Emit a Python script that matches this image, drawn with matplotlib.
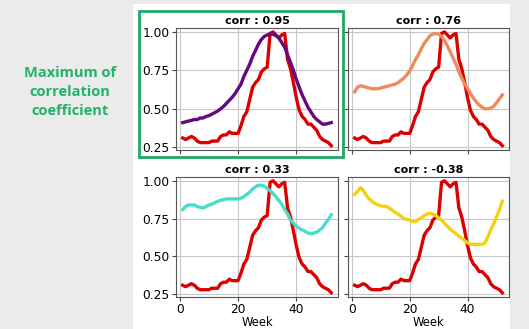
import matplotlib
matplotlib.use('Agg')
import matplotlib.pyplot as plt
from matplotlib.patches import Rectangle

weeks = list(range(1, 53))

observed = [0.31, 0.30, 0.31, 0.32, 0.31, 0.29, 0.28, 0.28, 0.28, 0.28,
            0.29, 0.29, 0.29, 0.32, 0.33, 0.33, 0.35, 0.34, 0.34, 0.34,
            0.39, 0.45, 0.48, 0.56, 0.64, 0.67, 0.69, 0.74, 0.76, 0.77,
            0.99, 1.00, 0.98, 0.96, 0.98, 0.99, 0.82, 0.76, 0.67, 0.57,
            0.49, 0.45, 0.43, 0.40, 0.40, 0.38, 0.36, 0.32, 0.30, 0.29,
            0.28, 0.26]

series_095 = [0.41, 0.415, 0.42, 0.425, 0.43, 0.43, 0.44, 0.44, 0.45, 0.455,
              0.465, 0.475, 0.485, 0.50, 0.515, 0.535, 0.555, 0.575, 0.60, 0.63,
              0.66, 0.71, 0.75, 0.79, 0.84, 0.88, 0.92, 0.95, 0.97, 0.98,
              0.985, 0.985, 0.975, 0.96, 0.93, 0.90, 0.85, 0.80, 0.75, 0.69,
              0.64, 0.59, 0.55, 0.51, 0.48, 0.45, 0.43, 0.415, 0.40, 0.40,
              0.405, 0.41]

series_076 = [0.61, 0.64, 0.65, 0.645, 0.64, 0.635, 0.63, 0.63, 0.63, 0.635,
              0.64, 0.645, 0.65, 0.655, 0.66, 0.67, 0.685, 0.70, 0.72, 0.745,
              0.78, 0.82, 0.85, 0.89, 0.925, 0.95, 0.975, 0.985, 0.99, 0.985,
              0.97, 0.945, 0.91, 0.87, 0.83, 0.79, 0.74, 0.70, 0.66, 0.63,
              0.60, 0.57, 0.545, 0.525, 0.51, 0.50, 0.50, 0.505, 0.515, 0.54,
              0.565, 0.59]

series_033 = [0.81, 0.83, 0.84, 0.84, 0.84, 0.83, 0.825, 0.82, 0.83, 0.84,
              0.845, 0.855, 0.865, 0.87, 0.875, 0.88, 0.88, 0.88, 0.88, 0.88,
              0.885, 0.895, 0.91, 0.925, 0.945, 0.96, 0.97, 0.97, 0.965, 0.95,
              0.935, 0.915, 0.895, 0.87, 0.845, 0.81, 0.78, 0.74, 0.72, 0.70,
              0.685, 0.675, 0.665, 0.655, 0.65, 0.655, 0.66, 0.675, 0.69, 0.72,
              0.745, 0.775]

series_m038 = [0.91, 0.93, 0.955, 0.935, 0.905, 0.88, 0.865, 0.85, 0.84, 0.835,
               0.83, 0.83, 0.82, 0.805, 0.79, 0.78, 0.765, 0.75, 0.745, 0.74,
               0.73, 0.73, 0.745, 0.755, 0.77, 0.78, 0.785, 0.78, 0.77, 0.755,
               0.74, 0.72, 0.70, 0.68, 0.665, 0.65, 0.635, 0.62, 0.605, 0.59,
               0.58, 0.58, 0.58, 0.58, 0.58, 0.59, 0.63, 0.675, 0.715, 0.76,
               0.81, 0.865]

titles = ['corr : 0.95', 'corr : 0.76', 'corr : 0.33', 'corr : -0.38']
lagged = [series_095, series_076, series_033, series_m038]
colours = ['#66087f', '#ee8a5c', '#48dccb', '#f0d213']
obs_colour = '#dc0000'

W, H = 529, 329
fig = plt.figure(figsize=(W / 100, H / 100), dpi=100, facecolor='#ebebeb')

# white panel behind the plots
fig.patches.append(Rectangle((133 / W, 0), (510 - 133) / W, 1 - 4 / H,
                             transform=fig.transFigure, facecolor='white',
                             edgecolor='none', zorder=-5))


def px_box(x0, x1, y0, y1):
    return [x0 / W, 1 - y1 / H, (x1 - x0) / W, (y1 - y0) / H]


boxes = [px_box(176, 338, 28, 150), px_box(348, 509, 28, 150),
         px_box(176, 338, 177, 297), px_box(348, 509, 177, 297)]

for i, box in enumerate(boxes):
    ax = fig.add_axes(box)
    ax.plot(weeks, lagged[i], color=colours[i], lw=2.4, zorder=3)
    ax.plot(weeks, observed, color=obs_colour, lw=2.4, zorder=2)
    ax.set_xlim(-1.3, 54.3)
    ax.set_ylim(0.232, 1.025)
    ax.set_xticks([0, 20, 40])
    ax.set_yticks([0.25, 0.5, 0.75, 1.0])
    ax.grid(True, color='#c8c8c8', lw=0.8)
    ax.set_axisbelow(True)
    for s in ax.spines.values():
        s.set_color('#555555')
        s.set_linewidth(0.8)
    ax.tick_params(labelsize=8.8, length=3, width=0.8, color='#444444', pad=1.5)
    ax.set_title(titles[i], fontsize=8, fontweight='bold', pad=3)
    if i % 2 == 1:
        ax.set_yticklabels([])
    if i < 2:
        ax.set_xticklabels([])
    else:
        ax.set_xlabel('Week', fontsize=8.3, labelpad=-0.5)

# green highlight box around the best match
fig.patches.append(Rectangle((139 / W, 1 - 157 / H), (343 - 139) / W, (157 - 11) / H,
                             transform=fig.transFigure, facecolor='none',
                             edgecolor='#1eaa64', lw=2.0, zorder=5))

fig.text(70 / W, 1 - 92 / H, 'Maximum of\ncorrelation\ncoefficient',
         ha='center', va='center', fontsize=10.5, fontweight='bold',
         color='#22b26a', family='Open Sans', linespacing=1.45)

fig.savefig('out.png', dpi=100, facecolor=fig.get_facecolor())
